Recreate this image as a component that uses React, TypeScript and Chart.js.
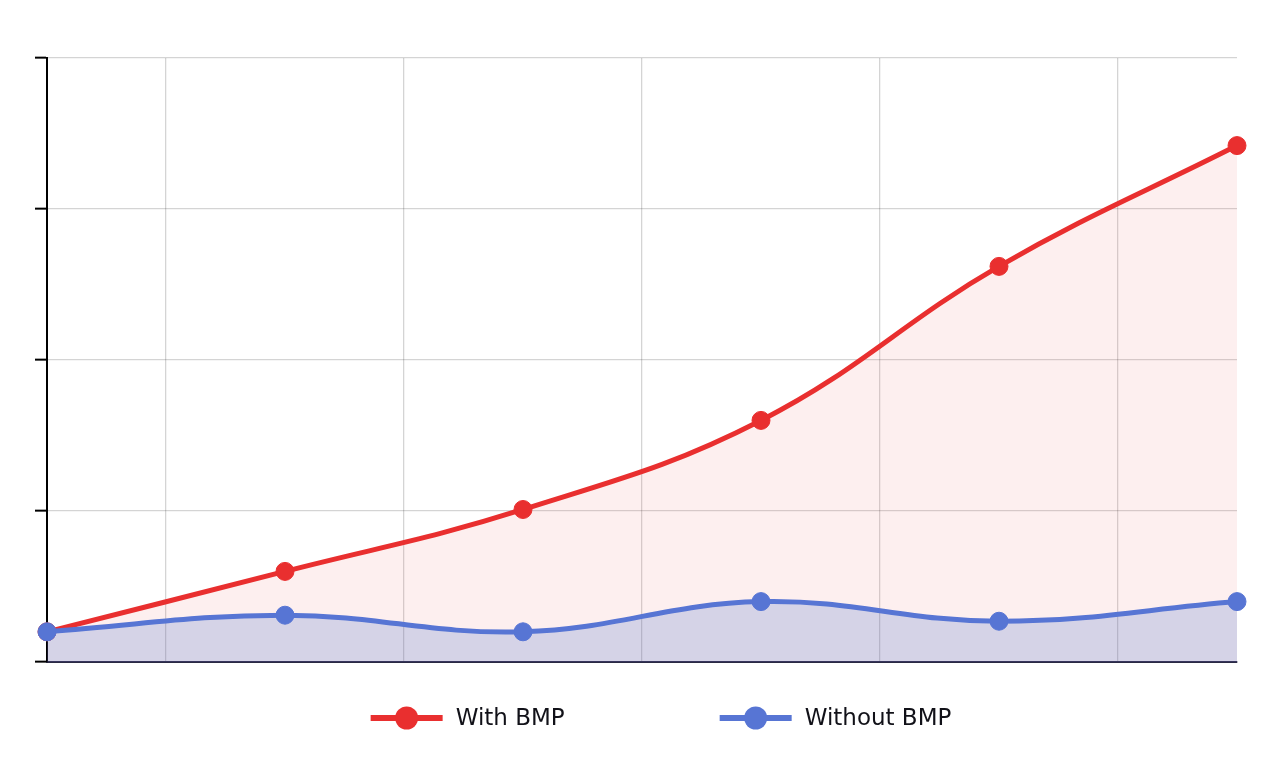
import React, { useEffect, useRef } from "react";
import { Chart, registerables } from "chart.js";

Chart.register(...registerables);

const categories = ["0", "1", "2", "3", "4", "5"];
const withBmp = [0.2, 0.6, 1.01, 1.6, 2.62, 3.42];
const withoutBmp = [0.2, 0.31, 0.2, 0.4, 0.27, 0.4];
const seriesNames = ["With BMP", "Without BMP"];
const yTicks = [0, 1, 2, 3, 4];

const RED = "#e92f2f";
const BLUE = "#5775d4";

const bottomLegend = {
  id: "bottomLegend",
  afterDraw(chart: any) {
    const ctx = chart.ctx as CanvasRenderingContext2D;
    const ds = chart.data.datasets;
    ctx.save();
    ctx.font = '23px "DejaVu Sans", sans-serif';
    ctx.textBaseline = "middle";
    ctx.textAlign = "left";
    const lineW = 72;
    const textGap = 13;
    const itemGap = 155;
    const widths = ds.map((d: any) => lineW + textGap + ctx.measureText(d.label).width);
    const total = widths.reduce((a: number, b: number) => a + b, 0) + itemGap * (ds.length - 1);
    const centerX = 661;
    const y = 718;
    let x = centerX - total / 2;
    ds.forEach((d: any, i: number) => {
      ctx.strokeStyle = d.borderColor;
      ctx.lineWidth = 6;
      ctx.beginPath();
      ctx.moveTo(x, y);
      ctx.lineTo(x + lineW, y);
      ctx.stroke();
      ctx.fillStyle = d.borderColor;
      ctx.beginPath();
      ctx.arc(x + lineW / 2, y, 11.5, 0, Math.PI * 2);
      ctx.fill();
      ctx.fillStyle = "#111118";
      ctx.fillText(d.label, x + lineW + textGap, y + 1);
      x += widths[i] + itemGap;
    });
    ctx.restore();
  },
};

export default function App() {
  const ref = useRef<HTMLCanvasElement | null>(null);
  useEffect(() => {
    document.body.style.margin = "0";
    if (!ref.current) return;
    const chart = new Chart(ref.current, {
      type: "line",
      data: {
        labels: categories,
        datasets: [
          {
            label: seriesNames[0],
            data: withBmp,
            borderColor: RED,
            backgroundColor: "rgba(233,47,47,0.08)",
            pointBackgroundColor: RED,
            pointBorderColor: RED,
            borderWidth: 5,
            pointRadius: 9,
            pointBorderWidth: 1,
            tension: 0.4,
            fill: "origin",
            clip: false as any,
            order: 1,
          },
          {
            label: seriesNames[1],
            data: withoutBmp,
            borderColor: BLUE,
            backgroundColor: "rgba(53,99,199,0.2)",
            pointBackgroundColor: BLUE,
            pointBorderColor: BLUE,
            borderWidth: 5,
            pointRadius: 9,
            pointBorderWidth: 1,
            tension: 0.4,
            fill: "origin",
            clip: false as any,
            order: 0,
          },
        ],
      },
      options: {
        responsive: false,
        animation: false,
        layout: { padding: { top: 58, right: 33, left: 0, bottom: 0 } },
        plugins: { legend: { display: false }, tooltip: { enabled: false } },
        scales: {
          x: {
            type: "category",
            offset: false,
            grid: { offset: true, color: "rgba(0,0,0,0.17)", lineWidth: 1.3, drawTicks: false },
            border: { color: "#2a2a44", width: 2 },
            ticks: { display: false },
            afterFit: (s: any) => {
              s.height = 112;
            },
          },
          y: {
            min: yTicks[0],
            max: yTicks[yTicks.length - 1],
            ticks: { display: false, stepSize: 1 },
            grid: {
              color: "rgba(0,0,0,0.17)",
              lineWidth: 1.3,
              drawTicks: true,
              tickLength: 12,
              tickColor: "#000",
              tickWidth: 2,
            },
            border: { color: "#000", width: 2 },
            afterFit: (s: any) => {
              s.width = 47;
            },
          },
        },
      },
      plugins: [bottomLegend],
    });
    return () => chart.destroy();
  }, []);
  return (
    <div style={{ position: "absolute", left: 0, top: 0, width: 1270, height: 774, background: "#fff" }}>
      <canvas ref={ref} width={1270} height={774} />
    </div>
  );
}
